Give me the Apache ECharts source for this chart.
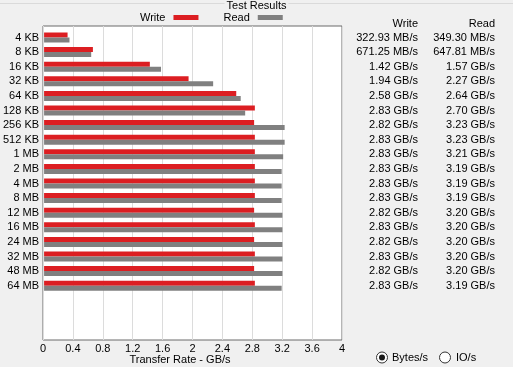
<!DOCTYPE html>
<html>
<head>
<meta charset="utf-8">
<script src="https://cdn.jsdelivr.net/npm/echarts@6/dist/echarts.min.js"></script>
<style>
html,body{margin:0;padding:0;background:#f0f0f0;}
#c{width:513px;height:367px;}
</style>
</head>
<body>
<div id="c"></div>
<script>
var categories = ['4 KB','8 KB','16 KB','32 KB','64 KB','128 KB','256 KB','512 KB','1 MB','2 MB','4 MB','8 MB','12 MB','16 MB','24 MB','32 MB','48 MB','64 MB'];
// transfer rates in GB/s (first two rows read as MB/s, 1 GB = 1024 MB)
var writeValues = [322.93/1024, 671.25/1024, 1.42, 1.94, 2.58, 2.83, 2.82, 2.83, 2.83, 2.83, 2.83, 2.83, 2.82, 2.83, 2.82, 2.83, 2.82, 2.83];
var readValues  = [349.30/1024, 647.81/1024, 1.57, 2.27, 2.64, 2.70, 3.23, 3.23, 3.21, 3.19, 3.19, 3.19, 3.20, 3.20, 3.20, 3.20, 3.20, 3.19];
var writeLabels = ['322.93 MB/s','671.25 MB/s','1.42 GB/s','1.94 GB/s','2.58 GB/s','2.83 GB/s','2.82 GB/s','2.83 GB/s','2.83 GB/s','2.83 GB/s','2.83 GB/s','2.83 GB/s','2.82 GB/s','2.83 GB/s','2.82 GB/s','2.83 GB/s','2.82 GB/s','2.83 GB/s'];
var readLabels  = ['349.30 MB/s','647.81 MB/s','1.57 GB/s','2.27 GB/s','2.64 GB/s','2.70 GB/s','3.23 GB/s','3.23 GB/s','3.21 GB/s','3.19 GB/s','3.19 GB/s','3.19 GB/s','3.20 GB/s','3.20 GB/s','3.20 GB/s','3.20 GB/s','3.20 GB/s','3.19 GB/s'];
var xTicks = {min: 0, max: 4, interval: 0.4};

var FONT = "'Liberation Sans', Arial, sans-serif";
var txt = {fontFamily: FONT, fontSize: 11, color: '#000'};
var RED = '#dc1e22', GRAY = '#808080';

var chart = echarts.init(document.getElementById('c'), null, {renderer: 'canvas'});
chart.setOption({
  backgroundColor: '#f0f0f0',
  animation: false,
  textStyle: {fontFamily: FONT},
  title: {
    text: 'Test Results', left: 'center', top: -1, padding: [1, 2],
    backgroundColor: '#f0f0f0',
    textStyle: {fontFamily: FONT, fontSize: 11, fontWeight: 'normal', color: '#000'}
  },
  legend: {
    left: 140, top: 12, align: 'right', icon: 'rect',
    itemWidth: 25, itemHeight: 5, itemGap: 25, padding: 0,
    textStyle: {fontFamily: FONT, fontSize: 11, color: '#000', padding: [0, 3, 0, 0]},
    data: ['Write', 'Read']
  },
  grid: [
    {left: 43, top: 26, width: 299, height: 314, show: true, backgroundColor: '#fff', borderColor: '#6a6a6a', borderWidth: 1, containLabel: false},
    {left: 43, top: 30.2, width: 299, height: 262.8, containLabel: false}
  ],
  xAxis: [
    {gridIndex: 0, type: 'value', min: xTicks.min, max: xTicks.max, interval: xTicks.interval,
     axisLine: {show: false}, axisTick: {show: false},
     splitLine: {show: true, lineStyle: {color: '#dcdcdc', width: 1}},
     axisLabel: Object.assign({margin: 3}, txt)},
    {gridIndex: 1, type: 'value', min: xTicks.min, max: xTicks.max, show: false, splitLine: {show: false}}
  ],
  yAxis: [
    {gridIndex: 0, type: 'value', show: false, splitLine: {show: false}},
    {gridIndex: 1, type: 'category', inverse: true, data: categories,
     axisLine: {show: false}, axisTick: {show: false}, splitLine: {show: false},
     axisLabel: Object.assign({margin: 5, interval: 0}, txt)},
    {gridIndex: 1, type: 'category', inverse: true, data: categories, position: 'right', offset: 0,
     axisLine: {show: false}, axisTick: {show: false}, splitLine: {show: false},
     axisLabel: Object.assign({margin: 76, interval: 0, align: 'right', formatter: function (v, i) { return writeLabels[i]; }}, txt)},
    {gridIndex: 1, type: 'category', inverse: true, data: categories, position: 'right', offset: 0,
     axisLine: {show: false}, axisTick: {show: false}, splitLine: {show: false},
     axisLabel: Object.assign({margin: 153, interval: 0, align: 'right', formatter: function (v, i) { return readLabels[i]; }}, txt)}
  ],
  series: [
    {name: 'Write', type: 'bar', xAxisIndex: 1, yAxisIndex: 1, data: writeValues, barWidth: 5, barGap: '0%',
     itemStyle: {color: RED}},
    {name: 'Read', type: 'bar', xAxisIndex: 1, yAxisIndex: 1, data: readValues, barWidth: 5, barGap: '0%',
     itemStyle: {color: GRAY}}
  ],
  graphic: [
    {type: 'line', z: -1, shape: {x1: 0, y1: 3.5, x2: 513, y2: 3.5}, style: {stroke: '#dadada', lineWidth: 1}},
    {type: 'text', x: 418, y: 24, style: {text: 'Write', textAlign: 'right', textVerticalAlign: 'middle', font: '11px ' + FONT, fill: '#000'}},
    {type: 'text', x: 495, y: 24, style: {text: 'Read', textAlign: 'right', textVerticalAlign: 'middle', font: '11px ' + FONT, fill: '#000'}},
    {type: 'text', x: 180, y: 360, style: {text: 'Transfer Rate - GB/s', textAlign: 'center', textVerticalAlign: 'middle', font: '11px ' + FONT, fill: '#000'}},
    {type: 'circle', shape: {cx: 382, cy: 357.5, r: 5.5}, style: {fill: '#fff', stroke: '#333', lineWidth: 1}},
    {type: 'circle', shape: {cx: 382, cy: 357.5, r: 3}, style: {fill: '#1a1a1a'}},
    {type: 'text', x: 392, y: 357.5, style: {text: 'Bytes/s', textAlign: 'left', textVerticalAlign: 'middle', font: '11px ' + FONT, fill: '#000'}},
    {type: 'circle', shape: {cx: 445, cy: 357.5, r: 5.5}, style: {fill: '#fff', stroke: '#333', lineWidth: 1}},
    {type: 'text', x: 456, y: 357.5, style: {text: 'IO/s', textAlign: 'left', textVerticalAlign: 'middle', font: '11px ' + FONT, fill: '#000'}}
  ]
});
</script>
</body>
</html>
